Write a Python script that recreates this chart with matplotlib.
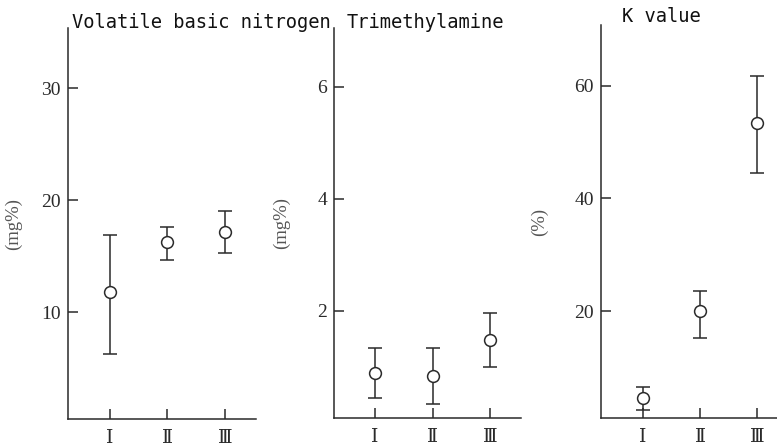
import matplotlib
matplotlib.use("Agg")
import matplotlib.pyplot as plt

groups = ["Ⅰ", "Ⅱ", "Ⅲ"]
xpos = [1, 2, 3]

vbn_mean = [11.8, 16.3, 17.2]
vbn_low = [6.3, 14.7, 15.3]
vbn_high = [16.9, 17.6, 19.0]

tma_mean = [0.89, 0.84, 1.48]
tma_low = [0.45, 0.34, 1.0]
tma_high = [1.34, 1.34, 1.96]

k_mean = [4.5, 20.0, 53.4]
k_low = [2.4, 15.2, 44.5]
k_high = [6.5, 23.6, 61.8]

titles = ["Volatile basic nitrogen", "Trimethylamine", "K value"]
ylabels = ["(mg%)", "(mg%)", "(%)"]
yticks = [[10, 20, 30], [2, 4, 6], [20, 40, 60]]

INK = "#2a2a2a"
SERIF = ["Liberation Serif", "DejaVu Serif", "Noto Sans CJK JP"]

W, H = 777, 446
fig = plt.figure(figsize=(W / 100, H / 100), dpi=100)


def px_axes(x0, x1, ytop, ybot):
    return fig.add_axes([x0 / W, (H - ybot) / H, (x1 - x0) / W, (ybot - ytop) / H])


axes = [
    px_axes(68, 256, 28, 419),
    px_axes(334, 521, 28, 418),
    px_axes(601, 777, 25, 418),
]
xlims = [(0.27, 3.54), (0.29, 3.53), (0.26, 3.35)]
ylims = [(0.45, 35.4), (0.09, 7.05), (1.0, 70.8)]
series = [
    (vbn_mean, vbn_low, vbn_high),
    (tma_mean, tma_low, tma_high),
    (k_mean, k_low, k_high),
]
title_pos = [(72, 23), (347, 23), (622, 17)]
ylabel_x = [22, 290, 548]

for i, ax in enumerate(axes):
    mean, low, high = series[i]
    yerr = [[m - lo for m, lo in zip(mean, low)], [hi - m for m, hi in zip(mean, high)]]
    ax.errorbar(xpos, mean, yerr=yerr, fmt="o", color=INK, ecolor=INK,
                elinewidth=1.1, capsize=4.8, capthick=1.1,
                markersize=8.5, markerfacecolor="white", markeredgecolor=INK,
                markeredgewidth=1.1)
    ax.set_xlim(*xlims[i])
    ax.set_ylim(*ylims[i])
    ax.set_xticks(xpos)
    ax.set_xticklabels(groups, family=SERIF, fontsize=13.5, color=INK)
    ax.set_yticks(yticks[i])
    ax.set_yticklabels([str(v) for v in yticks[i]], family=SERIF, fontsize=14, color=INK)
    ax.tick_params(direction="in", length=7, width=1.1, color=INK, pad=5)
    ax.tick_params(axis="x", pad=8)
    for side in ["top", "right"]:
        ax.spines[side].set_visible(False)
    for side in ["left", "bottom"]:
        ax.spines[side].set_color(INK)
        ax.spines[side].set_linewidth(1.1)
    ax.patch.set_alpha(0)

    bb = ax.get_position()
    ax.set_ylabel(ylabels[i], family=SERIF, fontsize=13.5, color="#555555")
    ax.yaxis.set_label_coords((ylabel_x[i] - bb.x0 * W) / (bb.width * W), 0.5)

    tx, ty = title_pos[i]
    fig.text(tx / W, (H - ty) / H, titles[i], family="DejaVu Sans Mono",
             fontsize=13.5, color="#111111", ha="left", va="center")

fig.savefig("out.png", dpi=100, facecolor="white")
